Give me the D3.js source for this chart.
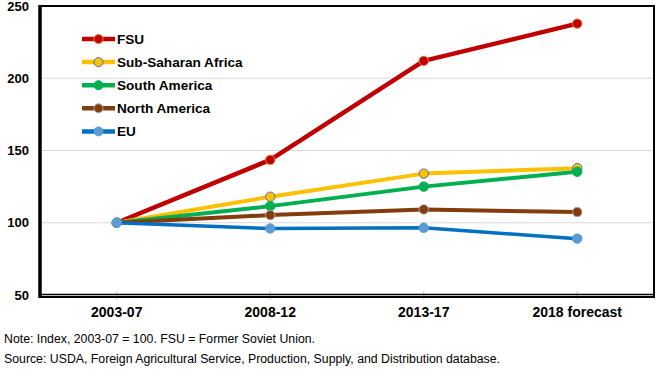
<!DOCTYPE html>
<html>
<head>
<meta charset="utf-8">
<script src="https://cdn.jsdelivr.net/npm/d3@7"></script>
<style>
  body { margin: 0; background: #fff; }
  svg { display: block; font-family: "Liberation Sans", Arial, sans-serif; }
</style>
</head>
<body>
<div id="chart"></div>
<script>
const periods = ["2003-07", "2008-12", "2013-17", "2018 forecast"];
const yTicks = [50, 100, 150, 200, 250];

const fsu = [100, 143.5, 212, 237.8];
const subSaharan = [100, 118, 134, 137.8];
const southAmerica = [100, 111.5, 125, 135.3];
const northAmerica = [100, 105.3, 109.2, 107.4];
const eu = [100, 96, 96.5, 89];

const series = [
    {name: "FSU", values: fsu, line: "#c00000", fill: "#c00000", stroke: "#ed7d31", width: 4.5},
    {name: "Sub-Saharan Africa", values: subSaharan, line: "#ffc000", fill: "#ffc000", stroke: "#4472c4", width: 4},
    {name: "South America", values: southAmerica, line: "#00b050", fill: "#00b050", stroke: "#00b050", width: 4},
    {name: "North America", values: northAmerica, line: "#843c0c", fill: "#843c0c", stroke: "#a5a5a5", width: 4},
    {name: "EU", values: eu, line: "#0070c0", fill: "#5b9bd5", stroke: "#5b9bd5", width: 3.5}
];

const width = 667, height = 376;
const plot = {left: 40, right: 654, top: 6, bottom: 295};

const svg = d3.select("#chart").append("svg")
    .attr("width", width)
    .attr("height", height);

const x = d3.scalePoint()
    .domain(periods)
    .range([plot.left, plot.right])
    .padding(0.5);

const y = d3.scaleLinear()
    .domain([50, 250])
    .range([plot.bottom, plot.top]);

// gridlines
svg.append("g")
    .selectAll("line")
    .data(yTicks.filter(d => d > 50 && d < 250))
    .join("line")
    .attr("x1", plot.left)
    .attr("x2", plot.right)
    .attr("y1", d => y(d))
    .attr("y2", d => y(d))
    .attr("stroke", "#d9d9d9")
    .attr("stroke-width", 1);

// category ticks
svg.append("g")
    .selectAll("line")
    .data(periods)
    .join("line")
    .attr("x1", d => x(d))
    .attr("x2", d => x(d))
    .attr("y1", plot.bottom - 3.5)
    .attr("y2", plot.bottom + 4.5)
    .attr("stroke", "#bfbfbf")
    .attr("stroke-width", 1);

// frame
svg.append("rect")
    .attr("x", plot.left)
    .attr("y", plot.top)
    .attr("width", plot.right - plot.left)
    .attr("height", plot.bottom + 2 - plot.top)
    .attr("fill", "none")
    .attr("stroke", "#000")
    .attr("stroke-width", 2);

svg.append("line")
    .attr("x1", plot.left)
    .attr("x2", plot.left)
    .attr("y1", plot.top - 1)
    .attr("y2", plot.bottom + 3)
    .attr("stroke", "#000")
    .attr("stroke-width", 3.5);

svg.append("line")
    .attr("x1", plot.left)
    .attr("x2", plot.right)
    .attr("y1", plot.bottom - 0.5)
    .attr("y2", plot.bottom - 0.5)
    .attr("stroke", "#000")
    .attr("stroke-width", 1.5);

// y labels
svg.append("g")
    .selectAll("text")
    .data(yTicks)
    .join("text")
    .attr("x", 29)
    .attr("y", d => y(d))
    .attr("dy", "0.35em")
    .attr("text-anchor", "end")
    .attr("font-size", 13)
    .attr("font-weight", "bold")
    .attr("fill", "#000")
    .text(d => d);

// x labels
svg.append("g")
    .selectAll("text")
    .data(periods)
    .join("text")
    .attr("x", d => x(d))
    .attr("y", 317)
    .attr("text-anchor", "middle")
    .attr("font-size", 14)
    .attr("font-weight", "bold")
    .attr("fill", "#000")
    .text(d => d);

// lines
const line = d3.line()
    .x((d, i) => x(periods[i]))
    .y(d => y(d));

const seriesGroup = svg.append("g")
    .selectAll("g")
    .data(series)
    .join("g");

seriesGroup.append("path")
    .attr("d", d => line(d.values))
    .attr("fill", "none")
    .attr("stroke", d => d.line)
    .attr("stroke-width", d => d.width)
    .attr("stroke-linejoin", "round");

seriesGroup.selectAll("circle")
    .data(d => d.values.map((v, i) => ({v, i, s: d})))
    .join("circle")
    .attr("cx", d => x(periods[d.i]))
    .attr("cy", d => y(d.v))
    .attr("r", 4.7)
    .attr("fill", d => d.s.fill)
    .attr("stroke", d => d.s.stroke)
    .attr("stroke-width", 1);

// legend
const legend = svg.append("g")
    .selectAll("g")
    .data(series)
    .join("g")
    .attr("transform", (d, i) => `translate(82, ${39 + i * 23.1})`);

legend.append("line")
    .attr("x1", 0)
    .attr("x2", 33)
    .attr("stroke", d => d.line)
    .attr("stroke-width", 4.5);

legend.append("circle")
    .attr("cx", 16.5)
    .attr("r", 4.5)
    .attr("fill", d => d.fill)
    .attr("stroke", d => d.stroke)
    .attr("stroke-width", 1);

legend.append("text")
    .attr("x", 35)
    .attr("dy", "0.36em")
    .attr("font-size", 13.6)
    .attr("font-weight", "bold")
    .attr("fill", "#000")
    .text(d => d.name);

// notes
svg.append("text")
    .attr("x", 4)
    .attr("y", 343)
    .attr("font-size", 12.3)
    .attr("fill", "#000")
    .text("Note: Index, 2003-07 = 100. FSU = Former Soviet Union.");

svg.append("text")
    .attr("x", 4)
    .attr("y", 363)
    .attr("font-size", 12.3)
    .attr("fill", "#000")
    .text("Source: USDA, Foreign Agricultural Service, Production, Supply, and Distribution database.");
</script>
</body>
</html>
